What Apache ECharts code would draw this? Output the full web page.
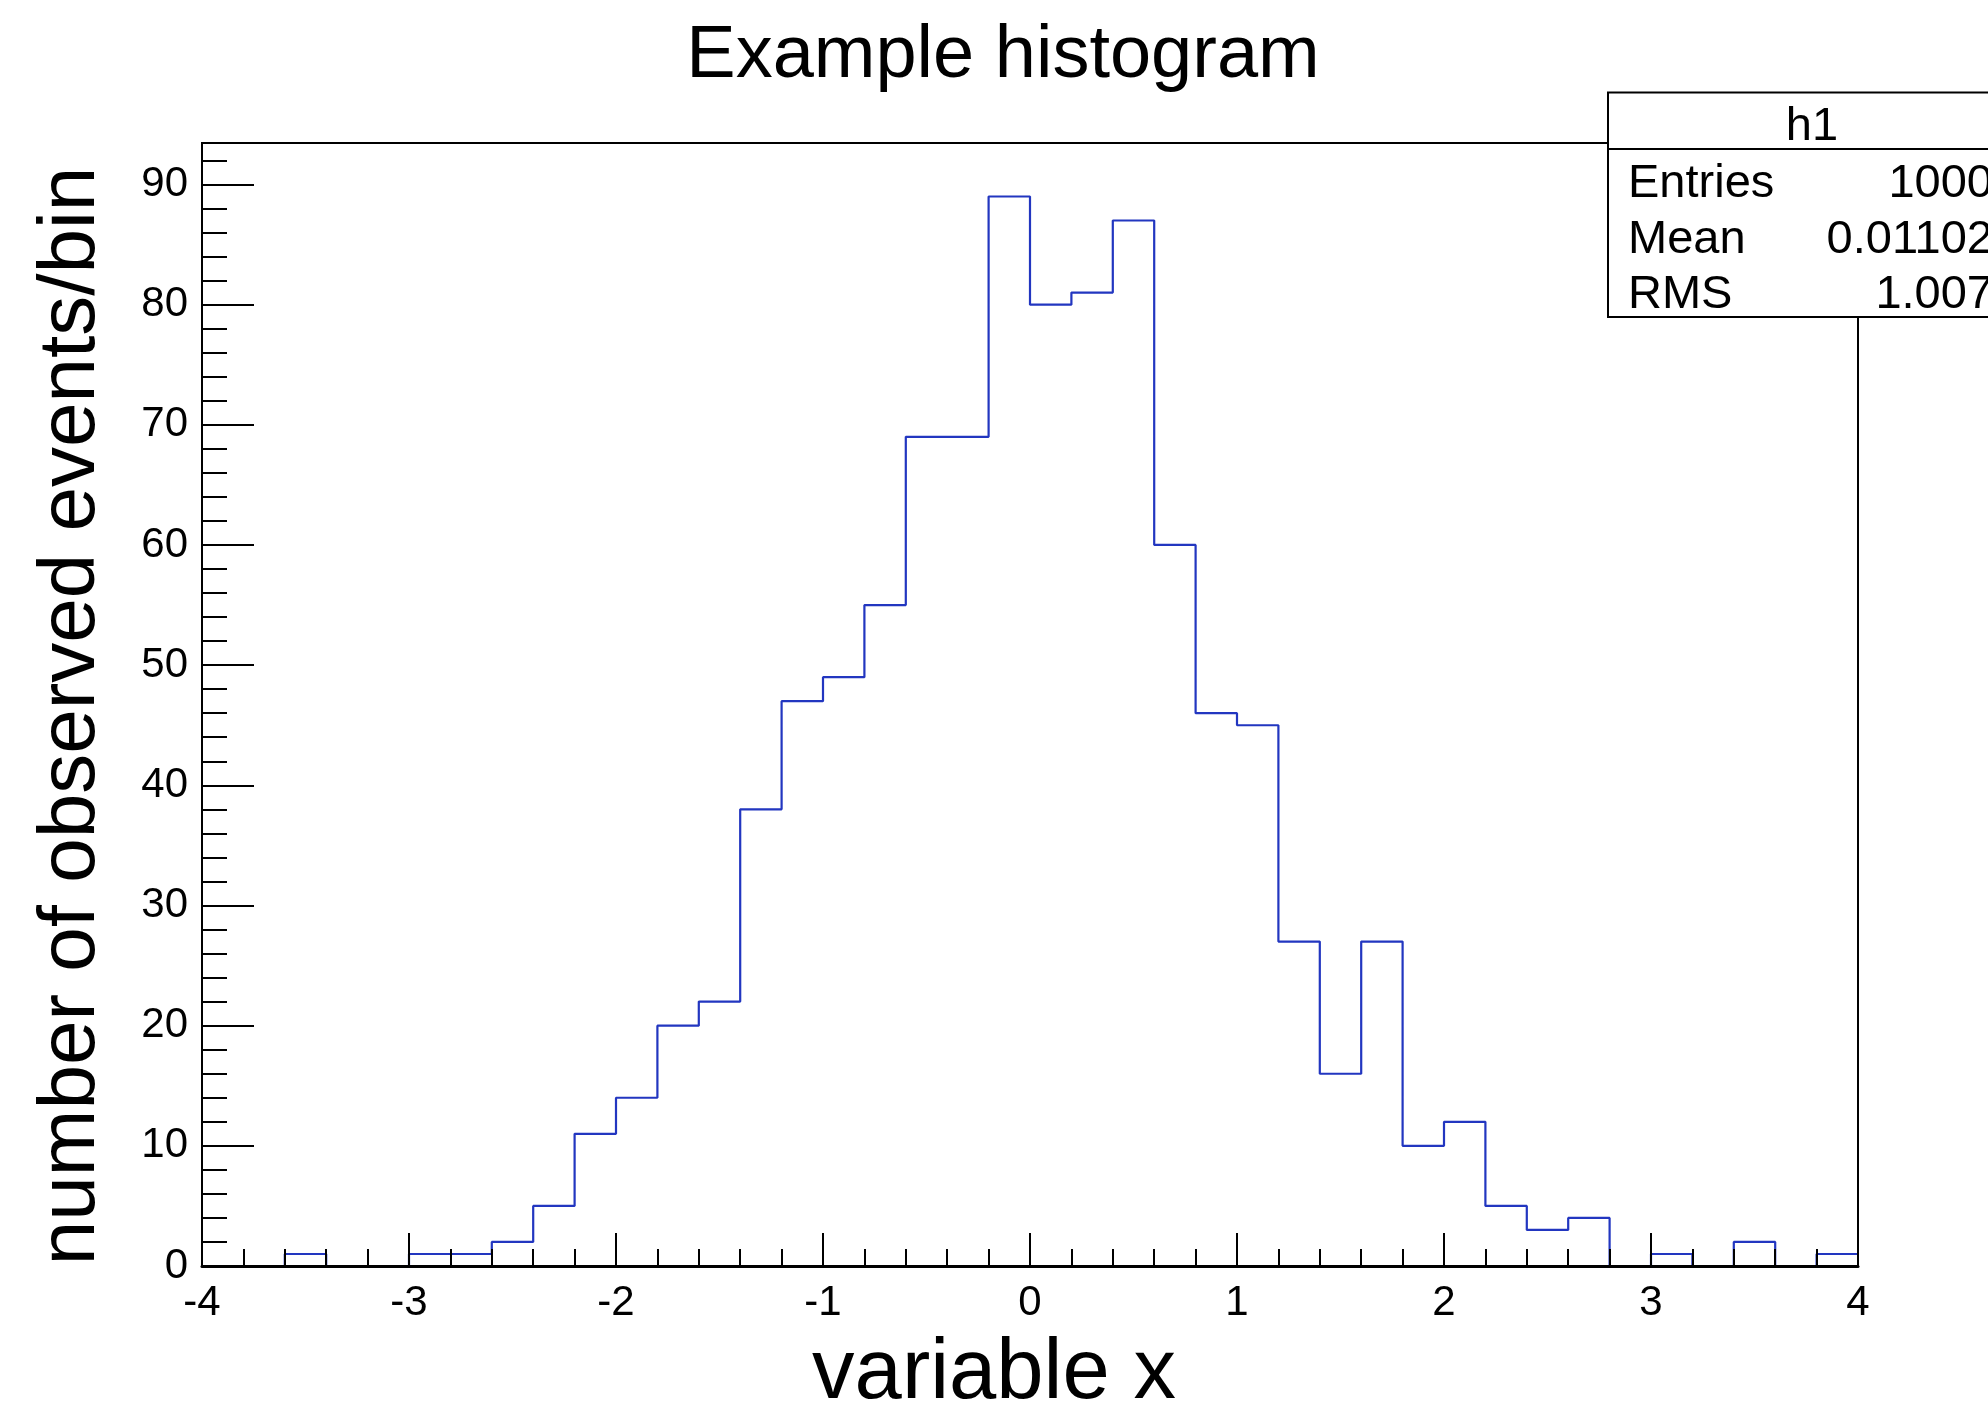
<!DOCTYPE html>
<html>
<head>
<meta charset="utf-8">
<script src="https://cdn.jsdelivr.net/npm/echarts@6/dist/echarts.min.js"></script>
<style>
html,body{margin:0;padding:0;background:#fff;}
#chart{width:1988px;height:1407px;}
</style>
</head>
<body>
<div id="chart"></div>
<script>
// ---- data ----
const binLowEdges = [-4.0,-3.8,-3.6,-3.4,-3.2,-3.0,-2.8,-2.6,-2.4,-2.2,
                     -2.0,-1.8,-1.6,-1.4,-1.2,-1.0,-0.8,-0.6,-0.4,-0.2,
                      0.0, 0.2, 0.4, 0.6, 0.8, 1.0, 1.2, 1.4, 1.6, 1.8,
                      2.0, 2.2, 2.4, 2.6, 2.8, 3.0, 3.2, 3.4, 3.6, 3.8];
const binUpperLast = 4.0;
const counts = [0,0,1,0,0,1,1,2,5,11,
                14,20,22,38,47,49,55,69,69,89,
                80,81,87,60,46,45,27,16,27,10,
                12,5,3,4,0,1,0,2,0,1];
const titleText = 'Example histogram';
const xTitle = 'variable x';
const yTitle = 'number of observed events/bin';
const statsName = 'h1';
const statsLabels = ['Entries','Mean','RMS'];
const statsValues = ['1000','0.01102','1.007'];
const yMax = 93.45;

// ---- build ----
const stepData = binLowEdges.map((e,i)=>[e, counts[i]]);
stepData.push([binUpperLast, counts[counts.length-1]]);

const FONT = '"Liberation Sans", Arial, Helvetica, sans-serif';
const chart = echarts.init(document.getElementById('chart'), null, {renderer:'canvas'});

const graphics = [
  {type:'text', x:1003, y:57, z:10,
   style:{text:titleText, font:'74px '+FONT, fill:'#000', textAlign:'center', textVerticalAlign:'middle'}},
  {type:'text', x:994, y:1375, z:10,
   style:{text:xTitle, font:'85px '+FONT, fill:'#000', textAlign:'center', textVerticalAlign:'middle'}},
  {type:'text', x:72, y:716, rotation:Math.PI/2, z:10,
   style:{text:yTitle, font:'80px '+FONT, fill:'#000', textAlign:'center', textVerticalAlign:'middle'}},
  {type:'rect', z:20, shape:{x:1608, y:92.5, width:420, height:224.5},
   style:{fill:'#fff', stroke:'#000', lineWidth:2}},
  {type:'line', z:21, shape:{x1:1608, y1:149, x2:1990, y2:149},
   style:{stroke:'#000', lineWidth:2}},
  {type:'text', x:1812, y:127, z:22,
   style:{text:statsName, font:'47px '+FONT, fill:'#000', textAlign:'center', textVerticalAlign:'middle'}}
];
const rowY = [184, 240, 295];
statsLabels.forEach((lab,i)=>{
  graphics.push({type:'text', x:1628, y:rowY[i], z:22,
    style:{text:lab, font:'47px '+FONT, fill:'#000', textAlign:'left', textVerticalAlign:'middle'}});
  graphics.push({type:'text', x:1993, y:rowY[i], z:22,
    style:{text:statsValues[i], font:'47px '+FONT, fill:'#000', textAlign:'right', textVerticalAlign:'middle'}});
});

const option = {
  backgroundColor:'#fff',
  animation:false,
  grid:{left:202, right:130, top:143, bottom:141, show:true, borderColor:'#000', borderWidth:2, backgroundColor:'transparent'},
  xAxis:{
    type:'value', min:-4, max:4, interval:1, z:10,
    axisLine:{show:true, onZero:false, lineStyle:{color:'#000', width:3}},
    axisTick:{show:true, inside:true, length:33, lineStyle:{color:'#000', width:2}},
    minorTick:{show:true, splitNumber:5, length:17, lineStyle:{color:'#000', width:2}},
    axisLabel:{color:'#000', fontSize:42, fontFamily:FONT, margin:16},
    splitLine:{show:false}, minorSplitLine:{show:false}
  },
  yAxis:{
    type:'value', min:0, max:yMax, interval:10, z:10,
    axisLine:{show:true, onZero:false, lineStyle:{color:'#000', width:2}},
    axisTick:{show:true, inside:true, length:52, lineStyle:{color:'#000', width:2}},
    minorTick:{show:true, splitNumber:5, length:25, lineStyle:{color:'#000', width:2}},
    axisLabel:{color:'#000', fontSize:42, fontFamily:FONT, margin:14, showMaxLabel:false,
      formatter:function(v){ return (Math.abs(v % 10) < 1e-9) ? String(v) : ''; }},
    splitLine:{show:false}, minorSplitLine:{show:false}
  },
  series:[{
    type:'line', name:'h1', step:'end', data:stepData, symbol:'none', z:1,
    lineStyle:{color:'#2236c0', width:2.2}, clip:true
  }],
  graphic: graphics
};
chart.setOption(option);
</script>
</body>
</html>
